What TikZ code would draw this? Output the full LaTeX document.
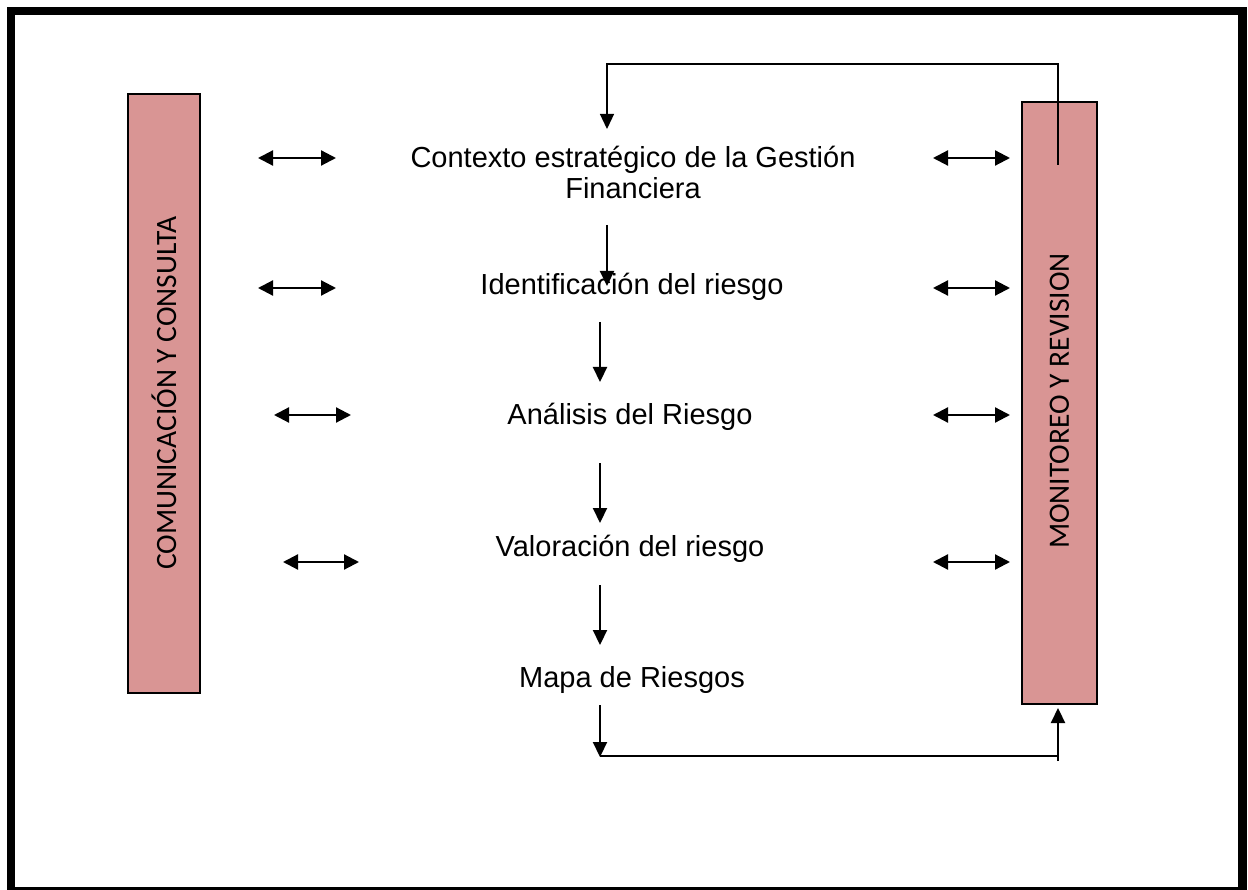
\documentclass[tikz,border=0pt]{standalone}
\usepackage{fontspec}
\setmainfont{Liberation Sans}
\newfontfamily\barfont{Carlito}
\usetikzlibrary{arrows.meta}
\definecolor{barpink}{HTML}{D99594}
\begin{document}
\begin{tikzpicture}[x=1pt,y=-1pt,
  bar/.style={draw=black,line width=1.6pt,fill=barpink},
  bartext/.style={font=\barfont\fontsize{29.5}{34}\selectfont,rotate=90},
  steptext/.style={font=\fontsize{29}{31}\selectfont,align=center,inner sep=0pt},
  dbl/.style={line width=2.2pt,{Triangle[length=15pt,width=15pt]}-{Triangle[length=15pt,width=15pt]}},
  down/.style={line width=2.2pt,-{Triangle[length=15pt,width=14pt]}},
  thin/.style={line width=1.3pt}]
\useasboundingbox (0,0) rectangle (1248,890);
\begin{scope}
\clip (0,0) rectangle (1248,890);
\draw[line width=8.5pt] (11,11) rectangle (1242.5,891.5);
\end{scope}
% bars
\draw[bar] (128,94) rectangle (200,693);
\node[bartext] (com) at (164,393) {COMUNICACIÓN Y CONSULTA};
\draw[bar] (1022,102) rectangle (1097,704);
\node[bartext] (mon) at (1059.5,401) {MONITOREO Y REVISION};
% steps
\node[steptext] (ctx) at (633,172) {Contexto estratégico de la Gestión\\Financiera};
\node[steptext] (idr) at (632,287) {Identificación del riesgo};
\node[steptext] (ana) at (630,417) {Análisis del Riesgo};
\node[steptext] (val) at (630,549) {Valoración del riesgo};
\node[steptext] (map) at (632,680) {Mapa de Riesgos};
% coordinates
\coordinate (t1) at (1058,165);
\coordinate (t2) at (1058,64);
\coordinate (t3) at (607,64);
\coordinate (t4) at (607,129);
\coordinate (a1s) at (607,225); \coordinate (a1e) at (607,286);
\coordinate (a2s) at (600,322); \coordinate (a2e) at (600,382);
\coordinate (a3s) at (600,463); \coordinate (a3e) at (600,523);
\coordinate (a4s) at (600,585); \coordinate (a4e) at (600,645);
\coordinate (b1) at (600,705); \coordinate (b2) at (600,757);
\coordinate (b3) at (1058,756); \coordinate (b4) at (1058,761); \coordinate (b5) at (1058,708);
% top feedback
\draw[thin,-{Triangle[length=15pt,width=14pt]}] (t1) -- (t2) -- (t3) -- (t4);
% downward arrows
\draw[down] (a1s) -- (a1e);
\draw[down] (a2s) -- (a2e);
\draw[down] (a3s) -- (a3e);
\draw[down] (a4s) -- (a4e);
% bottom feedback
\draw[down] (b1) -- (b2);
\draw[line width=2.2pt] (600,756) -- (b3);
\draw[down] (b4) -- (b5);
% double arrows left
\coordinate (l1a) at (258,158); \coordinate (l1b) at (336,158);
\coordinate (l2a) at (258,288); \coordinate (l2b) at (336,288);
\coordinate (l3a) at (274,415); \coordinate (l3b) at (351,415);
\coordinate (l4a) at (283,562); \coordinate (l4b) at (359,562);
\draw[dbl] (l1a) -- (l1b);
\draw[dbl] (l2a) -- (l2b);
\draw[dbl] (l3a) -- (l3b);
\draw[dbl] (l4a) -- (l4b);
% double arrows right
\coordinate (r1a) at (933,158); \coordinate (r1b) at (1010,158);
\coordinate (r2a) at (933,288); \coordinate (r2b) at (1010,288);
\coordinate (r3a) at (933,415); \coordinate (r3b) at (1010,415);
\coordinate (r4a) at (933,562); \coordinate (r4b) at (1010,562);
\draw[dbl] (r1a) -- (r1b);
\draw[dbl] (r2a) -- (r2b);
\draw[dbl] (r3a) -- (r3b);
\draw[dbl] (r4a) -- (r4b);
\end{tikzpicture}
\end{document}
